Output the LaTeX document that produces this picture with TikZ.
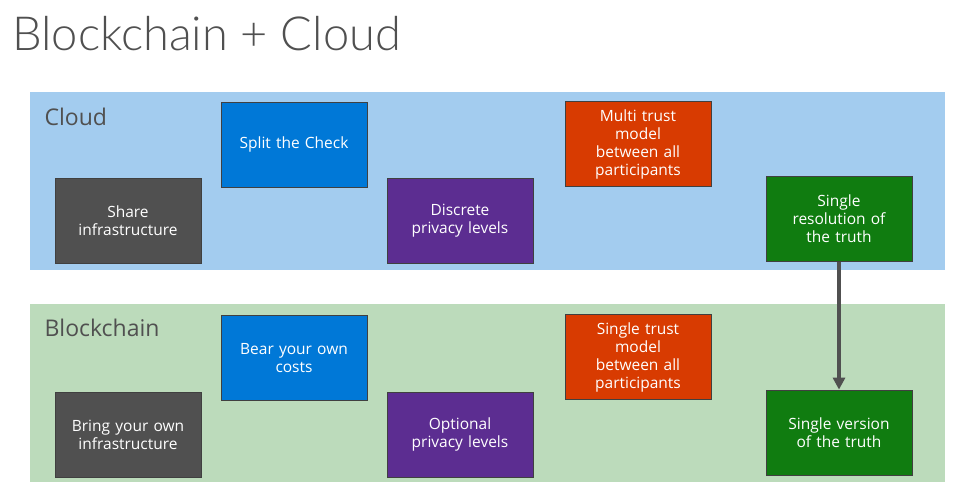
\documentclass[tikz,border=0pt]{standalone}
\usepackage{fontspec}
\setmainfont{Open Sans}
\newfontfamily\titlefont{Lato}[UprightFont=* Light]
\usepackage{tikz}
\usetikzlibrary{positioning, arrows.meta}
\definecolor{cloudbg}{RGB}{163,204,239}
\definecolor{chainbg}{RGB}{188,219,187}
\definecolor{txtgray}{RGB}{80,80,80}
\definecolor{tilegray}{RGB}{80,80,80}
\definecolor{tileblue}{RGB}{0,120,215}
\definecolor{tilepurple}{RGB}{92,45,145}
\definecolor{tilered}{RGB}{216,59,1}
\definecolor{tilegreen}{RGB}{16,124,16}

\begin{document}
\begin{tikzpicture}[
  x=1pt, y=-1pt,
  band/.style={minimum width=915pt, minimum height=178pt, inner sep=0pt},
  tile/.style={draw=black!75, line width=0.8pt, minimum width=146pt,
               minimum height=85pt, inner sep=2pt, text=white, align=center,
               text width=136pt, font=\fontsize{15.5}{18}\selectfont},
  head/.style={anchor=west, text=txtgray, font=\fontsize{23}{26}\selectfont},
  arr/.style={-{Triangle[length=12pt, width=12pt]}, line width=3.5pt, txtgray}
]
\useasboundingbox (0,0) rectangle (975,483);
\node[anchor=base west, text=txtgray, inner sep=0pt,
      font=\titlefont\fontsize{47}{52}\selectfont] (title) at (12,50) {Blockchain + Cloud};
\node[band, fill=cloudbg] (cloud) at (487.5,181) {};
\node[band, fill=chainbg] (chain) at (487.5,392.5) {};
\node[head] (cloudlab) at (41,117) {Cloud};
\node[head] (chainlab) at (41,328) {Blockchain};
% cloud row
\node[tile, fill=tilegray]   (share) at (128,221) {Share\\infrastructure};
\node[tile, fill=tileblue]   (split) at (294,144.5) {Split the Check};
\node[tile, fill=tilepurple] (discr) at (460,221) {Discrete\\privacy levels};
\node[tile, fill=tilered]    (multi) at (638,144) {Multi trust\\model\\between all\\participants};
\node[tile, fill=tilegreen]  (resol) at (839,219) {Single\\resolution of\\the truth};
% blockchain row
\node[tile, fill=tilegray]   (bring) at (128,434.5) {Bring your own\\infrastructure};
\node[tile, fill=tileblue]   (bear)  at (294,358) {Bear your own\\costs};
\node[tile, fill=tilepurple] (optl)  at (460,434.5) {Optional\\privacy levels};
\node[tile, fill=tilered]    (single) at (638,357) {Single trust\\model\\between all\\participants};
\node[tile, fill=tilegreen]  (versn) at (839,432.5) {Single version\\of the truth};
\draw[arr] (resol) -- (versn);
\end{tikzpicture}
\end{document}
